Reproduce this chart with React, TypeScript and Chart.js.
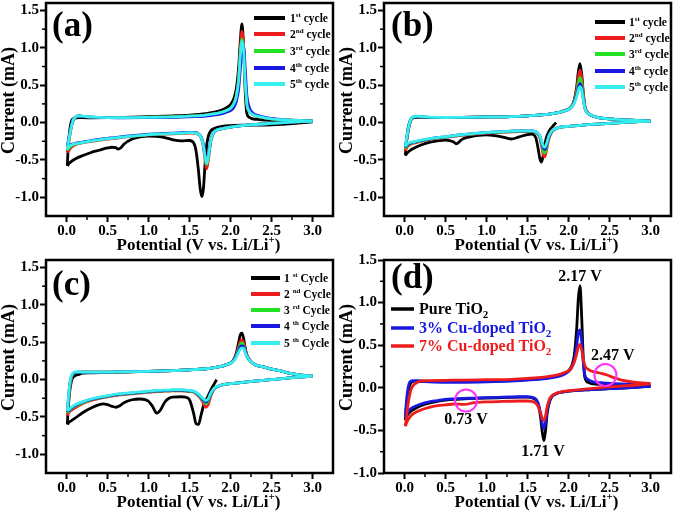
import React, { useEffect, useRef } from 'react';
import { Chart, registerables } from 'chart.js';
Chart.register(...registerables);

const SERIF = "'Liberation Serif', 'Times New Roman', Times, serif";

const BLACK = '#000000';
const RED = '#ee1c1c';
const GREEN = '#22e022';
const BLUE = '#1818e0';
const CYAN = '#36eeee';
const MAGENTA = '#ff30ff';

const X_TICKS = [0, 0.5, 1, 1.5, 2, 2.5, 3];
const X_MINOR = [0.25, 0.75, 1.25, 1.75, 2.25, 2.75];
const Y_TICKS = [-1, -0.5, 0, 0.5, 1, 1.5];
const Y_MINOR = [-0.75, -0.25, 0.25, 0.75, 1.25];

const ORDINALS = ['1', '2', '3', '4', '5'];
const SUFFIXES = ['st', 'nd', 'rd', 'th', 'th'];

// ---------- Panel (a) ----------
const A_LOWER_X = [0.01, 0.03, 0.06, 0.1, 0.2, 0.3, 0.4, 0.5, 0.55, 0.6, 0.63, 0.66, 0.7, 0.8, 0.9, 1.0, 1.1, 1.2, 1.3, 1.4, 1.5, 1.55, 1.58, 1.61, 1.63, 1.65, 1.67, 1.69, 1.71, 1.73, 1.76, 1.8, 1.9, 2.0, 2.2, 2.5, 2.8, 3.0];
const A1_LOWER = [-0.58, -0.55, -0.52, -0.49, -0.44, -0.40, -0.37, -0.34, -0.33, -0.335, -0.355, -0.34, -0.29, -0.22, -0.19, -0.18, -0.185, -0.20, -0.23, -0.245, -0.24, -0.27, -0.38, -0.65, -0.88, -0.99, -0.88, -0.55, -0.30, -0.18, -0.11, -0.08, -0.05, -0.04, -0.035, -0.03, -0.01, 0.01];
const A2_LOWER = [-0.40, -0.37, -0.33, -0.30, -0.27, -0.25, -0.235, -0.22, -0.215, -0.21, -0.205, -0.20, -0.195, -0.185, -0.175, -0.165, -0.16, -0.155, -0.15, -0.145, -0.14, -0.14, -0.145, -0.16, -0.18, -0.23, -0.33, -0.50, -0.62, -0.50, -0.25, -0.13, -0.08, -0.06, -0.035, -0.01, 0.01, 0.02];
const A3_LOWER = [-0.37, -0.34, -0.31, -0.29, -0.265, -0.245, -0.23, -0.215, -0.21, -0.205, -0.2, -0.195, -0.19, -0.18, -0.17, -0.16, -0.155, -0.15, -0.145, -0.14, -0.135, -0.135, -0.14, -0.155, -0.175, -0.22, -0.31, -0.46, -0.56, -0.46, -0.24, -0.125, -0.08, -0.06, -0.035, -0.01, 0.01, 0.02];
const A4_LOWER = [-0.31, -0.30, -0.29, -0.28, -0.26, -0.24, -0.225, -0.21, -0.205, -0.2, -0.195, -0.19, -0.185, -0.175, -0.165, -0.155, -0.15, -0.145, -0.14, -0.135, -0.13, -0.13, -0.135, -0.15, -0.17, -0.21, -0.29, -0.42, -0.50, -0.44, -0.24, -0.125, -0.08, -0.06, -0.035, -0.01, 0.01, 0.02];
const A5_LOWER = [-0.36, -0.32, -0.30, -0.285, -0.265, -0.245, -0.23, -0.215, -0.21, -0.205, -0.2, -0.195, -0.19, -0.18, -0.17, -0.16, -0.155, -0.15, -0.145, -0.14, -0.135, -0.135, -0.14, -0.155, -0.175, -0.22, -0.31, -0.45, -0.55, -0.45, -0.24, -0.125, -0.08, -0.06, -0.035, -0.01, 0.01, 0.02];

const AB_UPPER_X = [0.01, 0.02, 0.04, 0.06, 0.08, 0.1, 0.15, 0.2, 0.3, 0.5, 0.7, 1.0, 1.3, 1.5, 1.7, 1.8, 1.9, 1.95, 2.0, 2.04, 2.07, 2.1, 2.12, 2.14, 2.16, 2.18, 2.2, 2.23, 2.27, 2.35, 2.5, 2.7, 3.0];
const A1_UPPER = [-0.58, -0.35, -0.10, 0.02, 0.05, 0.06, 0.065, 0.065, 0.063, 0.065, 0.07, 0.08, 0.09, 0.10, 0.12, 0.14, 0.17, 0.20, 0.24, 0.32, 0.45, 0.75, 1.10, 1.32, 1.00, 0.40, 0.12, 0.07, 0.05, 0.04, 0.03, 0.025, 0.02];
const A2_UPPER = [-0.40, -0.32, -0.18, -0.06, 0.02, 0.06, 0.085, 0.08, 0.072, 0.065, 0.065, 0.07, 0.075, 0.085, 0.10, 0.115, 0.14, 0.16, 0.19, 0.25, 0.36, 0.62, 0.98, 1.22, 1.02, 0.55, 0.24, 0.15, 0.11, 0.08, 0.05, 0.035, 0.02];
const A3_UPPER = [-0.37, -0.30, -0.17, -0.05, 0.03, 0.065, 0.088, 0.082, 0.073, 0.066, 0.065, 0.07, 0.075, 0.085, 0.10, 0.115, 0.14, 0.16, 0.19, 0.25, 0.35, 0.58, 0.92, 1.12, 0.98, 0.55, 0.25, 0.15, 0.11, 0.08, 0.05, 0.035, 0.02];
const A4_UPPER = [-0.31, -0.25, -0.14, -0.04, 0.03, 0.065, 0.088, 0.082, 0.073, 0.066, 0.063, 0.066, 0.07, 0.078, 0.088, 0.10, 0.12, 0.14, 0.16, 0.20, 0.28, 0.45, 0.72, 0.95, 1.02, 0.72, 0.36, 0.2, 0.13, 0.09, 0.055, 0.035, 0.02];
const A5_UPPER = [-0.36, -0.28, -0.16, -0.05, 0.03, 0.065, 0.09, 0.085, 0.075, 0.067, 0.066, 0.07, 0.076, 0.086, 0.10, 0.115, 0.14, 0.16, 0.19, 0.25, 0.34, 0.56, 0.9, 1.09, 0.96, 0.55, 0.25, 0.15, 0.11, 0.08, 0.05, 0.035, 0.02];

// ---------- Panel (b) ----------
const B_LOWER_X = [0.01, 0.03, 0.06, 0.1, 0.2, 0.3, 0.4, 0.5, 0.55, 0.6, 0.63, 0.66, 0.7, 0.8, 0.9, 1.0, 1.1, 1.2, 1.3, 1.4, 1.5, 1.55, 1.6, 1.63, 1.65, 1.67, 1.69, 1.71, 1.73, 1.76, 1.8, 1.85, 1.9, 2.0, 2.2, 2.5, 2.8, 3.0];
const B1_LOWER = [-0.44, -0.41, -0.38, -0.35, -0.30, -0.265, -0.245, -0.235, -0.24, -0.26, -0.285, -0.265, -0.225, -0.19, -0.17, -0.165, -0.175, -0.195, -0.22, -0.19, -0.16, -0.155, -0.20, -0.35, -0.48, -0.53, -0.45, -0.30, -0.20, -0.12, -0.06, 0.0, null, null, null, null, null, null];
const B2_LOWER = [-0.38, -0.33, -0.30, -0.28, -0.25, -0.23, -0.21, -0.20, -0.19, -0.185, -0.18, -0.175, -0.17, -0.16, -0.15, -0.14, -0.135, -0.13, -0.125, -0.12, -0.12, -0.12, -0.13, -0.16, -0.20, -0.30, -0.42, -0.46, -0.38, -0.22, -0.12, -0.08, -0.06, -0.05, -0.03, -0.01, 0.01, 0.02];
const B3_LOWER = [-0.35, -0.31, -0.29, -0.27, -0.245, -0.225, -0.205, -0.195, -0.185, -0.18, -0.175, -0.17, -0.165, -0.155, -0.145, -0.135, -0.13, -0.125, -0.12, -0.115, -0.115, -0.115, -0.125, -0.155, -0.19, -0.27, -0.37, -0.41, -0.34, -0.20, -0.115, -0.08, -0.06, -0.05, -0.03, -0.01, 0.01, 0.02];
const B4_LOWER = [-0.33, -0.30, -0.28, -0.265, -0.24, -0.22, -0.2, -0.19, -0.18, -0.175, -0.17, -0.165, -0.16, -0.15, -0.14, -0.13, -0.125, -0.12, -0.115, -0.11, -0.11, -0.11, -0.12, -0.15, -0.18, -0.25, -0.33, -0.36, -0.31, -0.19, -0.11, -0.08, -0.06, -0.05, -0.03, -0.01, 0.01, 0.02];
const B5_LOWER = [-0.32, -0.29, -0.27, -0.26, -0.235, -0.215, -0.2, -0.19, -0.18, -0.175, -0.17, -0.165, -0.16, -0.15, -0.14, -0.13, -0.125, -0.12, -0.115, -0.11, -0.11, -0.11, -0.12, -0.145, -0.175, -0.24, -0.31, -0.33, -0.29, -0.18, -0.105, -0.08, -0.06, -0.05, -0.03, -0.01, 0.01, 0.02];
const B1_UPPER = [-0.44, -0.30, -0.10, 0.0, 0.04, 0.06, 0.07, 0.07, 0.068, 0.068, 0.07, 0.075, 0.08, 0.09, 0.105, 0.12, 0.14, 0.16, 0.18, 0.22, 0.30, 0.48, 0.68, 0.79, 0.66, 0.40, 0.22, 0.14, 0.10, 0.07, 0.05, 0.035, 0.02];
const B2_UPPER = [-0.38, -0.30, -0.15, -0.03, 0.04, 0.07, 0.08, 0.075, 0.07, 0.068, 0.07, 0.075, 0.08, 0.09, 0.105, 0.12, 0.14, 0.16, 0.18, 0.22, 0.29, 0.44, 0.60, 0.70, 0.60, 0.38, 0.21, 0.14, 0.10, 0.07, 0.05, 0.035, 0.02];
const B3_UPPER = [-0.35, -0.28, -0.14, -0.03, 0.04, 0.07, 0.08, 0.075, 0.07, 0.068, 0.07, 0.075, 0.08, 0.09, 0.105, 0.12, 0.14, 0.16, 0.18, 0.22, 0.28, 0.40, 0.53, 0.60, 0.53, 0.35, 0.20, 0.13, 0.10, 0.07, 0.05, 0.035, 0.02];
const B4_UPPER = [-0.33, -0.26, -0.13, -0.02, 0.045, 0.07, 0.08, 0.075, 0.07, 0.068, 0.07, 0.075, 0.08, 0.09, 0.105, 0.12, 0.14, 0.155, 0.175, 0.21, 0.27, 0.37, 0.47, 0.52, 0.47, 0.32, 0.19, 0.13, 0.10, 0.07, 0.05, 0.035, 0.02];
const B5_UPPER = [-0.32, -0.25, -0.12, -0.01, 0.05, 0.075, 0.085, 0.08, 0.072, 0.068, 0.07, 0.075, 0.08, 0.09, 0.105, 0.12, 0.14, 0.155, 0.175, 0.21, 0.26, 0.35, 0.44, 0.48, 0.44, 0.31, 0.19, 0.13, 0.10, 0.07, 0.05, 0.035, 0.02];

// ---------- Panel (c) ----------
const C_LOWER_X = [0.01, 0.03, 0.06, 0.1, 0.2, 0.3, 0.4, 0.45, 0.5, 0.55, 0.6, 0.65, 0.7, 0.8, 0.9, 1.0, 1.05, 1.1, 1.15, 1.2, 1.25, 1.3, 1.4, 1.45, 1.5, 1.55, 1.58, 1.61, 1.64, 1.67, 1.7, 1.73, 1.76, 1.8, 1.83, 1.9, 2.0, 2.2, 2.5, 2.8, 3.0];
const C1_LOWER = [-0.60, -0.57, -0.55, -0.52, -0.44, -0.38, -0.335, -0.325, -0.335, -0.355, -0.37, -0.35, -0.31, -0.27, -0.26, -0.29, -0.36, -0.45, -0.40, -0.30, -0.25, -0.235, -0.23, -0.235, -0.27, -0.45, -0.59, -0.60, -0.48, -0.35, -0.28, -0.21, -0.14, -0.06, 0.0, null, null, null, null, null, null];
const C2_LOWER = [-0.48, -0.44, -0.41, -0.38, -0.32, -0.28, -0.25, -0.24, -0.23, -0.22, -0.21, -0.205, -0.20, -0.19, -0.18, -0.17, -0.165, -0.16, -0.16, -0.155, -0.155, -0.15, -0.15, -0.155, -0.16, -0.17, -0.19, -0.22, -0.26, -0.32, -0.37, -0.33, -0.22, -0.13, -0.10, -0.07, -0.055, -0.03, 0.0, 0.03, 0.045];
const C3_LOWER = [-0.45, -0.42, -0.39, -0.36, -0.31, -0.27, -0.245, -0.235, -0.225, -0.215, -0.205, -0.2, -0.195, -0.185, -0.175, -0.165, -0.16, -0.155, -0.155, -0.15, -0.15, -0.145, -0.145, -0.15, -0.155, -0.165, -0.18, -0.21, -0.245, -0.29, -0.32, -0.29, -0.2, -0.125, -0.1, -0.07, -0.055, -0.03, 0.0, 0.03, 0.045];
const C4_LOWER = [-0.43, -0.41, -0.38, -0.35, -0.30, -0.265, -0.24, -0.23, -0.22, -0.21, -0.2, -0.195, -0.19, -0.18, -0.17, -0.16, -0.155, -0.15, -0.15, -0.145, -0.145, -0.14, -0.14, -0.145, -0.15, -0.16, -0.175, -0.2, -0.235, -0.275, -0.30, -0.27, -0.19, -0.12, -0.1, -0.07, -0.055, -0.03, 0.0, 0.03, 0.045];
const C5_LOWER = [-0.42, -0.40, -0.37, -0.34, -0.295, -0.26, -0.235, -0.225, -0.215, -0.205, -0.195, -0.19, -0.185, -0.175, -0.165, -0.155, -0.15, -0.145, -0.145, -0.14, -0.14, -0.135, -0.135, -0.14, -0.145, -0.155, -0.17, -0.195, -0.225, -0.26, -0.28, -0.255, -0.18, -0.115, -0.095, -0.07, -0.055, -0.03, 0.0, 0.03, 0.045];
const C_UPPER_X = [0.01, 0.02, 0.04, 0.06, 0.08, 0.1, 0.15, 0.2, 0.3, 0.5, 0.7, 1.0, 1.3, 1.5, 1.7, 1.8, 1.9, 1.95, 2.0, 2.04, 2.07, 2.1, 2.12, 2.14, 2.16, 2.18, 2.2, 2.25, 2.3, 2.4, 2.5, 2.6, 2.7, 2.8, 2.9, 3.0];
const C1_UPPER = [-0.60, -0.40, -0.15, -0.02, 0.03, 0.05, 0.07, 0.085, 0.09, 0.095, 0.10, 0.11, 0.12, 0.13, 0.145, 0.16, 0.18, 0.20, 0.22, 0.27, 0.35, 0.50, 0.60, 0.62, 0.55, 0.42, 0.33, 0.24, 0.20, 0.17, 0.14, 0.12, 0.09, 0.07, 0.055, 0.05];
const C2_UPPER = [-0.48, -0.35, -0.10, 0.02, 0.07, 0.09, 0.10, 0.10, 0.10, 0.10, 0.105, 0.11, 0.12, 0.13, 0.145, 0.16, 0.18, 0.20, 0.22, 0.26, 0.33, 0.44, 0.51, 0.53, 0.49, 0.40, 0.32, 0.24, 0.20, 0.17, 0.14, 0.12, 0.09, 0.07, 0.055, 0.05];
const C3_UPPER = [-0.45, -0.32, -0.08, 0.03, 0.075, 0.09, 0.10, 0.10, 0.10, 0.10, 0.105, 0.11, 0.12, 0.13, 0.145, 0.16, 0.18, 0.20, 0.22, 0.26, 0.32, 0.41, 0.47, 0.49, 0.46, 0.38, 0.31, 0.24, 0.20, 0.17, 0.14, 0.12, 0.09, 0.07, 0.055, 0.05];
const C4_UPPER = [-0.43, -0.30, -0.06, 0.04, 0.08, 0.095, 0.10, 0.10, 0.10, 0.10, 0.105, 0.11, 0.12, 0.13, 0.145, 0.16, 0.18, 0.20, 0.22, 0.26, 0.31, 0.39, 0.44, 0.45, 0.44, 0.37, 0.31, 0.24, 0.20, 0.17, 0.14, 0.12, 0.09, 0.07, 0.055, 0.05];
const C5_UPPER = [-0.42, -0.28, -0.05, 0.05, 0.09, 0.10, 0.105, 0.10, 0.10, 0.10, 0.105, 0.11, 0.12, 0.13, 0.145, 0.16, 0.18, 0.20, 0.22, 0.25, 0.30, 0.37, 0.41, 0.42, 0.42, 0.36, 0.31, 0.24, 0.20, 0.17, 0.14, 0.12, 0.09, 0.07, 0.055, 0.05];

// ---------- Panel (d) ----------
const D_LOWER_X = [0.01, 0.03, 0.06, 0.1, 0.2, 0.3, 0.4, 0.5, 0.6, 0.73, 0.85, 1.0, 1.2, 1.4, 1.5, 1.55, 1.6, 1.63, 1.66, 1.68, 1.7, 1.72, 1.74, 1.77, 1.8, 1.85, 1.9, 2.0, 2.2, 2.5, 2.8, 3.0];
const D_PURE_LOWER = [-0.38, -0.33, -0.29, -0.26, -0.21, -0.18, -0.16, -0.145, -0.135, -0.13, -0.125, -0.12, -0.115, -0.11, -0.11, -0.115, -0.14, -0.19, -0.35, -0.52, -0.62, -0.50, -0.30, -0.16, -0.10, -0.07, -0.055, -0.04, -0.025, -0.01, 0.005, 0.02];
const D_CU3_LOWER = [-0.35, -0.30, -0.26, -0.23, -0.19, -0.165, -0.15, -0.135, -0.13, -0.125, -0.12, -0.115, -0.11, -0.105, -0.105, -0.11, -0.13, -0.18, -0.30, -0.42, -0.48, -0.40, -0.26, -0.15, -0.10, -0.07, -0.055, -0.04, -0.025, -0.01, 0.005, 0.02];
const D_CU7_LOWER = [-0.45, -0.40, -0.35, -0.31, -0.26, -0.23, -0.21, -0.20, -0.19, -0.195, -0.175, -0.165, -0.16, -0.155, -0.155, -0.16, -0.18, -0.22, -0.30, -0.36, -0.385, -0.33, -0.22, -0.13, -0.09, -0.065, -0.05, -0.035, -0.015, 0.01, 0.03, 0.045];
const D_UPPER_X = [0.01, 0.02, 0.04, 0.06, 0.08, 0.1, 0.15, 0.2, 0.3, 0.5, 0.7, 1.0, 1.3, 1.5, 1.7, 1.8, 1.9, 1.95, 2.0, 2.04, 2.07, 2.1, 2.12, 2.14, 2.16, 2.18, 2.2, 2.25, 2.3, 2.4, 2.47, 2.55, 2.65, 2.8, 3.0];
const D_PURE_UPPER = [-0.38, -0.25, -0.08, 0.02, 0.06, 0.075, 0.08, 0.08, 0.075, 0.072, 0.072, 0.078, 0.085, 0.095, 0.11, 0.125, 0.15, 0.17, 0.20, 0.26, 0.38, 0.70, 1.05, 1.20, 0.85, 0.35, 0.12, 0.06, 0.045, 0.04, 0.035, 0.03, 0.028, 0.025, 0.02];
const D_CU3_UPPER = [-0.35, -0.20, -0.02, 0.06, 0.08, 0.085, 0.08, 0.075, 0.07, 0.065, 0.065, 0.07, 0.08, 0.09, 0.105, 0.12, 0.14, 0.16, 0.19, 0.24, 0.33, 0.50, 0.64, 0.68, 0.55, 0.30, 0.15, 0.09, 0.07, 0.06, 0.055, 0.05, 0.045, 0.04, 0.03];
const D_CU7_UPPER = [-0.45, -0.38, -0.22, -0.10, -0.02, 0.02, 0.06, 0.08, 0.085, 0.088, 0.09, 0.095, 0.10, 0.11, 0.125, 0.14, 0.16, 0.18, 0.20, 0.24, 0.30, 0.40, 0.48, 0.51, 0.45, 0.34, 0.26, 0.21, 0.19, 0.17, 0.15, 0.12, 0.09, 0.065, 0.05];

const D_LEGEND = ['Pure TiO', '3% Cu-doped TiO', '7% Cu-doped TiO'];
const D_PEAK_LABELS = ['2.17 V', '2.47 V', '0.73 V', '1.71 V'];
const D_PEAK_LABEL_POS = [[2.14, 1.30], [2.54, 0.37], [0.75, -0.375], [1.69, -0.75]];
const D_CIRCLES = [[0.75, -0.15], [2.45, 0.15]];

type Part = { t: string; s?: 'sup' | 'sub' };
type Series = { color: string; order: number; lowerX: number[]; lower: (number | null)[]; upperX: number[]; upper: (number | null)[] };
type Cfg = {
  left: number; top: number; width: number; height: number;
  plotTop: number; plotBottom: number; plotLeft: number; plotRight: number;
  yMin: number; yMax: number;
  label: string; labelX: number; labelY: number;
  series: Series[];
  legend: { x0: number; x1: number; tx: number; rows: number[]; size: number; sub: number; lw: number; items: { color: string; textColor: string; parts: Part[] }[] };
  texts?: { t: string; x: number; y: number }[];
  circles?: number[][];
};

const CYCLE_COLORS = [BLACK, RED, GREEN, BLUE, CYAN];

function cycleSeries(lx: number[], ux: number[], lows: (number | null)[][], ups: (number | null)[][]): Series[] {
  return CYCLE_COLORS.map((c, i) => ({ color: c, order: 4 - i, lowerX: lx, lower: lows[i], upperX: ux, upper: ups[i] }));
}

function cycleLegend(capital: boolean): Cfg['legend']['items'] {
  return ORDINALS.map((o, i) => ({
    color: CYCLE_COLORS[i],
    textColor: BLACK,
    parts: capital
      ? [{ t: o + ' ' }, { t: SUFFIXES[i], s: 'sup' as const }, { t: ' Cycle' }]
      : [{ t: o }, { t: SUFFIXES[i], s: 'sup' as const }, { t: ' cycle' }],
  }));
}

const PANELS: Cfg[] = [
  {
    left: 0, top: 0, width: 338, height: 257, plotTop: 3, plotBottom: 216, plotLeft: 46, plotRight: 333,
    yMin: -1.25, yMax: 1.6, label: '(a)', labelX: 52, labelY: 36,
    series: cycleSeries(A_LOWER_X, AB_UPPER_X, [A1_LOWER, A2_LOWER, A3_LOWER, A4_LOWER, A5_LOWER], [A1_UPPER, A2_UPPER, A3_UPPER, A4_UPPER, A5_UPPER]),
    legend: { x0: 254, x1: 285, tx: 290, rows: [18, 34, 51, 68, 84], size: 11.5, sub: 7, lw: 4, items: cycleLegend(false) },
  },
  {
    left: 338, top: 0, width: 337, height: 257, plotTop: 3, plotBottom: 216, plotLeft: 46, plotRight: 333,
    yMin: -1.25, yMax: 1.6, label: '(b)', labelX: 53, labelY: 36,
    series: cycleSeries(B_LOWER_X, AB_UPPER_X, [B1_LOWER, B2_LOWER, B3_LOWER, B4_LOWER, B5_LOWER], [B1_UPPER, B2_UPPER, B3_UPPER, B4_UPPER, B5_UPPER]),
    legend: { x0: 257, x1: 287, tx: 291, rows: [22, 38, 54, 71, 87], size: 11.5, sub: 7, lw: 4, items: cycleLegend(false) },
  },
  {
    left: 0, top: 257, width: 338, height: 257, plotTop: 3, plotBottom: 216, plotLeft: 46, plotRight: 333,
    yMin: -1.25, yMax: 1.6, label: '(c)', labelX: 52, labelY: 38,
    series: cycleSeries(C_LOWER_X, C_UPPER_X, [C1_LOWER, C2_LOWER, C3_LOWER, C4_LOWER, C5_LOWER], [C1_UPPER, C2_UPPER, C3_UPPER, C4_UPPER, C5_UPPER]),
    legend: { x0: 251, x1: 280, tx: 284, rows: [21, 37, 53, 69, 86], size: 11.5, sub: 7, lw: 4, items: cycleLegend(true) },
  },
  {
    left: 338, top: 247, width: 337, height: 267, plotTop: 13, plotBottom: 226, plotLeft: 46, plotRight: 333,
    yMin: -1.0, yMax: 1.5, label: '(d)', labelX: 53, labelY: 41,
    series: [
      { color: BLACK, order: 2, lowerX: D_LOWER_X, lower: D_PURE_LOWER, upperX: D_UPPER_X, upper: D_PURE_UPPER },
      { color: BLUE, order: 1, lowerX: D_LOWER_X, lower: D_CU3_LOWER, upperX: D_UPPER_X, upper: D_CU3_UPPER },
      { color: RED, order: 0, lowerX: D_LOWER_X, lower: D_CU7_LOWER, upperX: D_UPPER_X, upper: D_CU7_UPPER },
    ],
    legend: {
      x0: 53, x1: 76, tx: 81, rows: [62, 81, 99], size: 16, sub: 11, lw: 3.5,
      items: [BLACK, BLUE, RED].map((c, i) => ({ color: c, textColor: c, parts: [{ t: D_LEGEND[i] }, { t: '2', s: 'sub' as const }] })),
    },
    texts: D_PEAK_LABELS.map((t, i) => ({ t, x: D_PEAK_LABEL_POS[i][0], y: D_PEAK_LABEL_POS[i][1] })),
    circles: D_CIRCLES,
  },
];

function richWidth(ctx: CanvasRenderingContext2D, parts: Part[], size: number, sub: number) {
  let w = 0;
  for (const p of parts) {
    const fs = p.s ? sub : size;
    ctx.font = `bold ${fs}px ${SERIF}`;
    w += ctx.measureText(p.t).width;
  }
  return w;
}

function drawRich(ctx: CanvasRenderingContext2D, parts: Part[], x: number, y: number, size: number, sub: number) {
  let cx = x;
  ctx.textAlign = 'left';
  ctx.textBaseline = 'alphabetic';
  for (const p of parts) {
    const fs = p.s ? sub : size;
    ctx.font = `bold ${fs}px ${SERIF}`;
    const dy = p.s === 'sup' ? -size * 0.42 : p.s === 'sub' ? size * 0.25 : 0;
    ctx.fillText(p.t, cx, y + dy);
    cx += ctx.measureText(p.t).width;
  }
}

function Panel({ cfg }: { cfg: Cfg }) {
  const ref = useRef<HTMLCanvasElement>(null);
  useEffect(() => {
    const canvas = ref.current!;
    const datasets: any[] = [];
    cfg.series.forEach((s) => {
      const branches: [number[], (number | null)[]][] = [[s.lowerX, s.lower], [s.upperX, s.upper]];
      branches.forEach(([xs, ys]) => {
        datasets.push({
          data: xs.map((x, i) => ({ x, y: ys[i] })),
          borderColor: s.color,
          backgroundColor: s.color,
          borderWidth: 2.8,
          pointRadius: 0,
          showLine: true,
          fill: false,
          cubicInterpolationMode: 'monotone',
          order: s.order,
          spanGaps: false,
        });
      });
    });

    const overlay = {
      id: 'overlay',
      afterDraw(chart: any) {
        const { ctx, chartArea: ca, scales } = chart;
        const xs = scales.x, ys = scales.y;
        ctx.save();
        ctx.strokeStyle = '#000';
        ctx.lineWidth = 1.5;
        X_MINOR.forEach((v) => {
          const px = xs.getPixelForValue(v);
          ctx.beginPath(); ctx.moveTo(px, ca.bottom); ctx.lineTo(px, ca.bottom + 4); ctx.stroke();
        });
        Y_MINOR.forEach((v) => {
          const py = ys.getPixelForValue(v);
          ctx.beginPath(); ctx.moveTo(ca.left, py); ctx.lineTo(ca.left - 4, py); ctx.stroke();
        });
        // frame
        ctx.lineWidth = 2.5;
        ctx.strokeRect(ca.left, ca.top, ca.right - ca.left, ca.bottom - ca.top);

        // panel label
        ctx.fillStyle = '#000';
        ctx.font = `bold 35px ${SERIF}`;
        ctx.textAlign = 'left';
        ctx.textBaseline = 'alphabetic';
        ctx.fillText(cfg.label, cfg.labelX, cfg.labelY);

        // legend
        const lg = cfg.legend;
        lg.items.forEach((it, i) => {
          const y = lg.rows[i];
          ctx.strokeStyle = it.color;
          ctx.lineWidth = lg.lw;
          ctx.beginPath(); ctx.moveTo(lg.x0, y); ctx.lineTo(lg.x1, y); ctx.stroke();
          ctx.fillStyle = it.textColor;
          drawRich(ctx, it.parts, lg.tx, y + lg.size * 0.33, lg.size, lg.sub);
        });

        // annotations
        if (cfg.texts) {
          ctx.fillStyle = '#000';
          ctx.font = `bold 16px ${SERIF}`;
          ctx.textAlign = 'center';
          ctx.textBaseline = 'middle';
          cfg.texts.forEach((a) => ctx.fillText(a.t, xs.getPixelForValue(a.x), ys.getPixelForValue(a.y)));
        }
        if (cfg.circles) {
          ctx.strokeStyle = MAGENTA;
          ctx.lineWidth = 2;
          cfg.circles.forEach(([cx, cy]) => {
            ctx.beginPath();
            ctx.arc(xs.getPixelForValue(cx), ys.getPixelForValue(cy), 11, 0, Math.PI * 2);
            ctx.stroke();
          });
        }

        // axis titles
        ctx.fillStyle = '#000';
        const xt: Part[] = [{ t: 'Potential (V vs. Li/Li' }, { t: '+', s: 'sup' }, { t: ')' }];
        const w = richWidth(ctx, xt, 17, 11);
        const cxm = (ca.left + ca.right) / 2 + 9;
        drawRich(ctx, xt, cxm - w / 2, ca.bottom + 34, 17, 11);

        ctx.save();
        ctx.translate(14, (ca.top + ca.bottom) / 2 - 9);
        ctx.rotate(-Math.PI / 2);
        ctx.font = `bold 18px ${SERIF}`;
        ctx.textAlign = 'center';
        ctx.textBaseline = 'alphabetic';
        ctx.fillText('Current (mA)', 0, 0);
        ctx.restore();

        ctx.restore();
      },
    };

    const tickFont = { family: SERIF, size: 15, weight: 'bold' as const };
    const chart = new Chart(canvas, {
      type: 'scatter',
      data: { datasets },
      options: {
        animation: false,
        responsive: false,
        maintainAspectRatio: false,
        devicePixelRatio: 1,
        layout: { padding: { left: 0, right: cfg.width - cfg.plotRight, top: cfg.plotTop, bottom: 0 } },
        plugins: { legend: { display: false }, tooltip: { enabled: false } },
        scales: {
          x: {
            type: 'linear',
            min: -0.25,
            max: 3.25,
            afterBuildTicks: (s: any) => { s.ticks = X_TICKS.map((v) => ({ value: v })); },
            afterFit: (s: any) => { s.height = cfg.height - cfg.plotBottom; s.paddingLeft = 0; s.paddingRight = 0; },
            grid: { display: true, drawOnChartArea: false, drawTicks: true, tickLength: 6, tickWidth: 2, tickColor: '#000', color: '#000' },
            border: { display: false },
            ticks: { font: tickFont, color: '#000', padding: 0, autoSkip: false, maxRotation: 0, minRotation: 0, callback: (v: any) => Number(v).toFixed(1) },
          },
          y: {
            type: 'linear',
            min: cfg.yMin,
            max: cfg.yMax,
            afterBuildTicks: (s: any) => { s.ticks = Y_TICKS.map((v) => ({ value: v })); },
            afterFit: (s: any) => { s.width = cfg.plotLeft; s.paddingTop = 0; s.paddingBottom = 0; },
            grid: { display: true, drawOnChartArea: false, drawTicks: true, tickLength: 6, tickWidth: 2, tickColor: '#000', color: '#000' },
            border: { display: false },
            ticks: { font: tickFont, color: '#000', padding: 1, autoSkip: false, callback: (v: any) => Number(v).toFixed(1) },
          },
        },
      } as any,
      plugins: [overlay],
    });
    return () => chart.destroy();
  }, [cfg]);
  return (
    <canvas
      ref={ref}
      width={cfg.width}
      height={cfg.height}
      style={{ position: 'absolute', left: cfg.left, top: cfg.top, width: cfg.width, height: cfg.height }}
    />
  );
}

export default function App() {
  return (
    <div style={{ position: 'absolute', left: 0, top: 0, width: 675, height: 514, background: '#fff', overflow: 'hidden' }}>
      {PANELS.map((p, i) => (
        <Panel key={i} cfg={p} />
      ))}
    </div>
  );
}
